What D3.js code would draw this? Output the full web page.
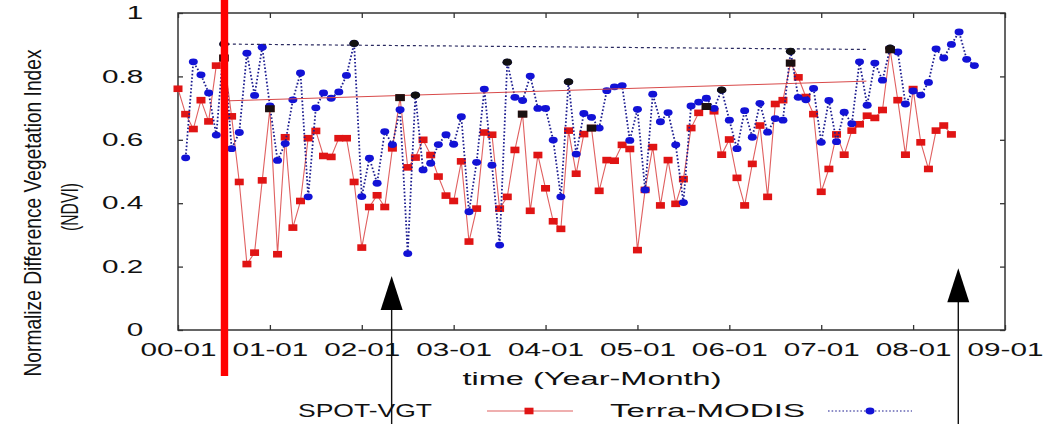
<!DOCTYPE html>
<html lang="en">
<head>
<meta charset="utf-8">
<script src="https://cdn.jsdelivr.net/npm/d3@7/dist/d3.min.js"></script>
<style type="text/css">
body { margin: 0; background: #fff; }
text { font-family: "Liberation Sans", Arial, sans-serif; fill: #111; }
</style>
</head>
<body>
<script type="text/javascript">

// month index 0 = 2000-01
var spotStart = 0;
var spotVgt = [0.761,0.681,0.634,0.725,0.658,0.834,0.858,0.674,0.467,0.208,0.244,0.472,
	0.698,0.239,0.608,0.323,0.407,0.605,0.628,0.549,0.546,0.605,0.605,0.467,
	0.260,0.388,0.425,0.388,0.573,0.733,0.513,0.544,0.600,0.552,0.484,0.424,
	0.407,0.532,0.279,0.383,0.623,0.616,0.383,0.420,0.568,0.681,0.376,0.552,
	0.447,0.343,0.319,0.629,0.493,0.618,0.637,0.439,0.536,0.534,0.584,0.571,
	0.252,0.442,0.577,0.393,0.536,0.398,0.476,0.637,0.685,0.705,0.690,0.553,
	0.601,0.480,0.393,0.524,0.645,0.420,0.713,0.725,0.842,0.797,0.735,0.681,
	0.436,0.508,0.617,0.553,0.629,0.649,0.676,0.669,0.694,0.884,0.725,0.553,
	0.760,0.592,0.508,0.629,0.645,0.617];

var modisStart = 1;
var terraModis = [0.543,0.846,0.805,0.748,0.615,0.902,0.572,0.623,0.873,0.740,0.892,
	0.707,0.535,0.588,0.726,0.811,0.420,0.701,0.748,0.731,0.751,0.803,0.904,
	0.421,0.542,0.463,0.626,0.585,0.695,0.241,0.741,0.505,0.526,0.585,0.616,
	0.586,0.673,0.373,0.529,0.760,0.520,0.268,0.845,0.734,0.724,0.801,0.699,
	0.699,0.599,0.420,0.783,0.555,0.683,0.671,0.637,0.755,0.767,0.771,0.598,
	0.696,0.442,0.744,0.657,0.686,0.584,0.402,0.707,0.719,0.731,0.699,0.757,
	0.662,0.572,0.692,0.608,0.715,0.624,0.667,0.662,0.879,0.734,0.726,0.762,
	0.592,0.724,0.594,0.687,0.651,0.846,0.709,0.842,0.788,0.889,0.877,0.713,
	0.754,0.741,0.781,0.887,0.858,0.901,0.940,0.854,0.834];

// months holding the black (peak) markers
var spotPeaks = [6, 12, 29, 45, 54, 69, 80, 93];
var modisPeaks = [6, 23, 31, 43, 51, 71, 80, 93];

// reference lines [month, ndvi]
var spotTrend = [[6.6, 0.723], [89.9, 0.785]];
var modisTrend = [[5.6, 0.902], [90, 0.885]];

var xTicks = [0, 12, 24, 36, 48, 60, 72, 84, 96, 108];
var xTickLabels = ["00-01","01-01","02-01","03-01","04-01","05-01","06-01","07-01","08-01","09-01"];
var yTicks = [0, 0.2, 0.4, 0.6, 0.8, 1];
var yTickLabels = ["0","0.2","0.4","0.6","0.8","1"];

// annotations
var markerMonth = 6.07;
var arrowMonths = [27.9, 101.9];
var arrowTips = [0.17, 0.195];

var width = 1044, height = 424;
var margin = {top: 13, right: 39, bottom: 94, left: 178};
var stretch = 1.65;

var svg = d3.select("body").append("svg")
	.attr("width", width)
	.attr("height", height);

var x = d3.scaleLinear().domain([0, 108]).range([margin.left, width - margin.right]);
var y = d3.scaleLinear().domain([0, 1]).range([height - margin.bottom, margin.top]);

var spotData = spotVgt.map(function(v, i) { return {m: spotStart + i, v: v}; });
var modisData = terraModis.map(function(v, i) { return {m: modisStart + i, v: v}; });

// axes (ticks point inwards)
svg.append("g").attr("transform", "translate(0," + y(0) + ")")
	.call(d3.axisBottom(x).tickValues(xTicks).tickSizeInner(-5).tickSizeOuter(0).tickPadding(13)
		.tickFormat(function(d, i) { return xTickLabels[i]; }));
svg.append("g").attr("transform", "translate(0," + y(1) + ")")
	.call(d3.axisTop(x).tickValues(xTicks).tickSizeInner(-5).tickSizeOuter(0).tickFormat(""));
svg.append("g").attr("transform", "translate(" + x(0) + ",0)")
	.call(d3.axisLeft(y).tickValues(yTicks).tickSizeInner(-5).tickSizeOuter(0).tickPadding(21)
		.tickFormat(function(d, i) { return yTickLabels[i]; }));
svg.append("g").attr("transform", "translate(" + x(108) + ",0)")
	.call(d3.axisRight(y).tickValues(yTicks).tickSizeInner(-5).tickSizeOuter(0).tickFormat(""));

svg.selectAll(".domain").remove();
svg.selectAll(".tick line").attr("stroke", "#333").attr("stroke-width", 1.3);
svg.selectAll(".tick text")
	.attr("font-size", 18)
	.attr("font-family", "'Liberation Sans', Arial, sans-serif")
	.attr("fill", "#111")
	.attr("transform", "scale(" + stretch + ",1)");

// frame
svg.append("rect")
	.attr("x", x(0)).attr("y", y(1))
	.attr("width", x(108) - x(0)).attr("height", y(0) - y(1))
	.attr("fill", "none").attr("stroke", "#333").attr("stroke-width", 1.5);

var line = d3.line().x(function(d) { return x(d.m); }).y(function(d) { return y(d.v); });

// SPOT-VGT
svg.append("path").datum(spotData)
	.attr("d", line).attr("fill", "none")
	.attr("stroke", "#e06060").attr("stroke-width", 1.1);
svg.selectAll("rect.spot").data(spotData).enter().append("rect")
	.attr("class", "spot")
	.attr("x", function(d) { return x(d.m) - 4.5; })
	.attr("y", function(d) { return y(d.v) - 3.3; })
	.attr("width", 9).attr("height", 6.6)
	.attr("fill", "#e01414");

// Terra-MODIS
svg.append("path").datum(modisData)
	.attr("d", line).attr("fill", "none")
	.attr("stroke", "#1c1c90").attr("stroke-width", 1.8)
	.attr("stroke-dasharray", "1.6,2");
svg.selectAll("ellipse.modis").data(modisData).enter().append("ellipse")
	.attr("class", "modis")
	.attr("cx", function(d) { return x(d.m); })
	.attr("cy", function(d) { return y(d.v); })
	.attr("rx", 4.5).attr("ry", 3.4)
	.attr("fill", "#1212d6");

// reference lines
svg.append("path").datum(spotTrend)
	.attr("d", d3.line().x(function(d) { return x(d[0]); }).y(function(d) { return y(d[1]); }))
	.attr("stroke", "#d84a4a").attr("stroke-width", 1).attr("fill", "none");
svg.append("path").datum(modisTrend)
	.attr("d", d3.line().x(function(d) { return x(d[0]); }).y(function(d) { return y(d[1]); }))
	.attr("stroke", "#2a2a60").attr("stroke-width", 1.2).attr("fill", "none")
	.attr("stroke-dasharray", "3,3");

// peak markers
var spotPk = spotData.filter(function(d) { return spotPeaks.indexOf(d.m) >= 0; });
var modisPk = modisData.filter(function(d) { return modisPeaks.indexOf(d.m) >= 0; });
svg.selectAll("ellipse.mpk").data(modisPk).enter().append("ellipse")
	.attr("class", "mpk")
	.attr("cx", function(d) { return x(d.m); })
	.attr("cy", function(d) { return y(d.v); })
	.attr("rx", 4.8).attr("ry", 3.6)
	.attr("fill", "#111");
svg.selectAll("rect.spk").data(spotPk).enter().append("rect")
	.attr("class", "spk")
	.attr("x", function(d) { return x(d.m) - 4.8; })
	.attr("y", function(d) { return y(d.v) - 3.5; })
	.attr("width", 9.6).attr("height", 7)
	.attr("fill", "#1a1010");

// red marker bar
svg.append("rect")
	.attr("x", x(markerMonth) - 3.7).attr("y", 0)
	.attr("width", 7.4).attr("height", 376)
	.attr("fill", "#ff0000");

// arrows
arrowMonths.forEach(function(m, i) {
	var ax = x(m), tip = y(arrowTips[i]);
	svg.append("line")
		.attr("x1", ax).attr("x2", ax)
		.attr("y1", tip + 30).attr("y2", height)
		.attr("stroke", "#111").attr("stroke-width", 1.4);
	svg.append("path")
		.attr("d", "M" + ax + "," + tip + " L" + (ax - 11) + "," + (tip + 34) + " L" + (ax + 11) + "," + (tip + 34) + " Z")
		.attr("fill", "#000");
});

// axis titles
svg.append("text")
	.attr("x", 592).attr("y", 385)
	.attr("text-anchor", "middle").attr("font-size", 18)
	.attr("textLength", 259).attr("lengthAdjust", "spacingAndGlyphs")
	.text("time (Year-Month)");

var yt = svg.append("g").attr("transform", "translate(0,213) rotate(-90)");
yt.append("text")
	.attr("x", 0).attr("y", 41)
	.attr("text-anchor", "middle").attr("font-size", 24)
	.attr("textLength", 327).attr("lengthAdjust", "spacingAndGlyphs")
	.text("Normalize Difference Vegetation Index");
yt.append("text")
	.attr("x", 6).attr("y", 78)
	.attr("text-anchor", "middle").attr("font-size", 24)
	.attr("textLength", 48).attr("lengthAdjust", "spacingAndGlyphs")
	.text("(NDVI)");

// legend
var lg = svg.append("g");
lg.append("text").attr("x", 298).attr("y", 417).attr("font-size", 18)
	.attr("textLength", 134).attr("lengthAdjust", "spacingAndGlyphs")
	.text("SPOT-VGT");
lg.append("line").attr("x1", 487).attr("x2", 573).attr("y1", 411).attr("y2", 411)
	.attr("stroke", "#e06060").attr("stroke-width", 1.1);
lg.append("rect").attr("x", 524.5).attr("y", 407.7).attr("width", 9).attr("height", 6.6)
	.attr("fill", "#e01414");
lg.append("text").attr("x", 610).attr("y", 417).attr("font-size", 18)
	.attr("textLength", 195).attr("lengthAdjust", "spacingAndGlyphs")
	.text("Terra-MODIS");
lg.append("line").attr("x1", 828).attr("x2", 912).attr("y1", 411).attr("y2", 411)
	.attr("stroke", "#1c1c90").attr("stroke-width", 1.2).attr("stroke-dasharray", "1.6,2");
lg.append("ellipse").attr("cx", 870).attr("cy", 411).attr("rx", 4.5).attr("ry", 3.4)
	.attr("fill", "#1212d6");

</script>
</body>
</html>
